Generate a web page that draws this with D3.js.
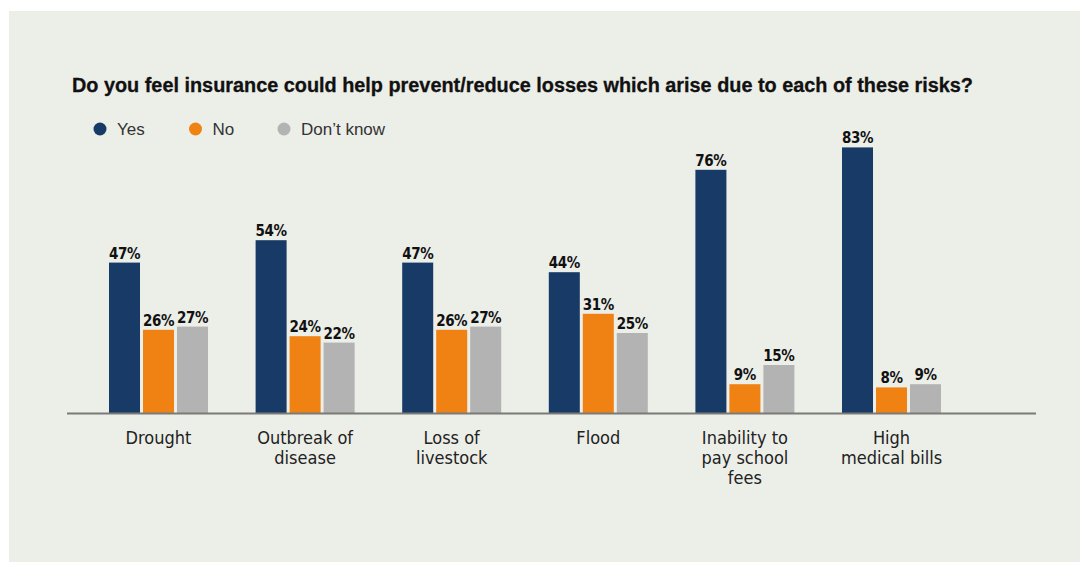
<!DOCTYPE html>
<html>
<head>
<meta charset="utf-8">
<script src="https://cdn.jsdelivr.net/npm/d3@7"></script>
<style>
  html, body { margin: 0; padding: 0; background: #ffffff; }
  svg { display: block; }
</style>
</head>
<body>
<svg id="chart" width="1080" height="562"></svg>
<script>
const categories = [
  ["Drought"],
  ["Outbreak of", "disease"],
  ["Loss of", "livestock"],
  ["Flood"],
  ["Inability to", "pay school", "fees"],
  ["High", "medical bills"]
];
const categoryKeys = ["Drought", "Outbreak of disease", "Loss of livestock", "Flood", "Inability to pay school fees", "High medical bills"];
const seriesNames = ["Yes", "No", "Don\u2019t know"];
const yesValues = [47, 54, 47, 44, 76, 83];
const noValues = [26, 24, 26, 31, 9, 8];
const dontKnowValues = [27, 22, 27, 25, 15, 9];
const seriesColors = ["#173a66", "#f08213", "#b3b3b3"];
const titleText = "Do you feel insurance could help prevent/reduce losses which arise due to each of these risks?";

const svg = d3.select("#chart");
const condensed = "'Liberation Sans Narrow', 'DejaVu Sans Condensed', 'Arial Narrow', sans-serif";
const regular = "'Liberation Sans', Arial, Helvetica, sans-serif";

// panel
svg.append("rect").attr("x", 9).attr("y", 11).attr("width", 1071).attr("height", 551).attr("fill", "#eceee8");

// title
svg.append("text")
  .attr("x", 72).attr("y", 92)
  .attr("font-family", regular)
  .attr("font-weight", "bold")
  .attr("font-size", 20)
  .attr("fill", "#111")
  .attr("stroke", "#111").attr("stroke-width", 0.3)
  .attr("textLength", 901)
  .attr("lengthAdjust", "spacingAndGlyphs")
  .text(titleText);

// legend
const legendX = [100, 195.5, 284];
const legend = svg.append("g");
seriesNames.forEach((s, i) => {
  legend.append("circle").attr("cx", legendX[i]).attr("cy", 129).attr("r", 6.5).attr("fill", seriesColors[i]);
  legend.append("text").attr("x", legendX[i] + 17).attr("y", 135)
    .attr("font-family", regular).attr("font-size", 17).attr("fill", "#333").text(s);
});

// scales
const x0 = d3.scaleBand().domain(categoryKeys).range([109, 941]).paddingInner(0.3247).paddingOuter(0);
const x1 = d3.scaleBand().domain(seriesNames).range([0, x0.bandwidth()]).paddingInner(0.088);
const y = d3.scaleLinear().domain([0, 100]).range([413, 93]);

const data = categoryKeys.map((c, i) => ({
  key: c,
  values: [yesValues[i], noValues[i], dontKnowValues[i]].map((v, j) => ({ s: seriesNames[j], v, color: seriesColors[j] }))
}));

const groups = svg.append("g").selectAll("g").data(data).join("g")
  .attr("transform", d => `translate(${x0(d.key)},0)`);

groups.selectAll("rect").data(d => d.values).join("rect")
  .attr("x", d => x1(d.s))
  .attr("width", x1.bandwidth())
  .attr("y", d => y(d.v))
  .attr("height", d => y(0) - y(d.v))
  .attr("fill", d => d.color);

groups.selectAll("text.val").data(d => d.values).join("text")
  .attr("class", "val")
  .attr("x", d => x1(d.s) + x1.bandwidth() / 2)
  .attr("y", d => y(d.v) - 4)
  .attr("text-anchor", "middle")
  .attr("font-family", condensed)
  .attr("font-weight", "bold")
  .attr("font-size", 15)
  .attr("letter-spacing", -0.4)
  .attr("fill", "#111")
  .text(d => d.v + "%");

// axis
const axisG = svg.append("g").attr("transform", `translate(0,${y(0)})`);
const axis = d3.axisBottom(x0).tickSize(0).tickFormat("");
axisG.call(axis);
axisG.select(".domain").remove();
axisG.append("line").attr("x1", 67).attr("x2", 1036).attr("y1", 0.5).attr("y2", 0.5)
  .attr("stroke", "#7a7a76").attr("stroke-width", 2);

// category labels
const labels = svg.append("g").selectAll("text").data(categoryKeys).join("text")
  .attr("x", d => x0(d) + x0.bandwidth() / 2)
  .attr("y", 444)
  .attr("text-anchor", "middle")
  .attr("font-family", condensed)
  .attr("font-size", 18)
  .attr("fill", "#222");
labels.each(function(d, i) {
  const t = d3.select(this);
  categories[i].forEach((line, k) => {
    t.append("tspan").attr("x", x0(d) + x0.bandwidth() / 2).attr("dy", k === 0 ? 0 : 20).text(line);
  });
});
</script>
</body>
</html>
